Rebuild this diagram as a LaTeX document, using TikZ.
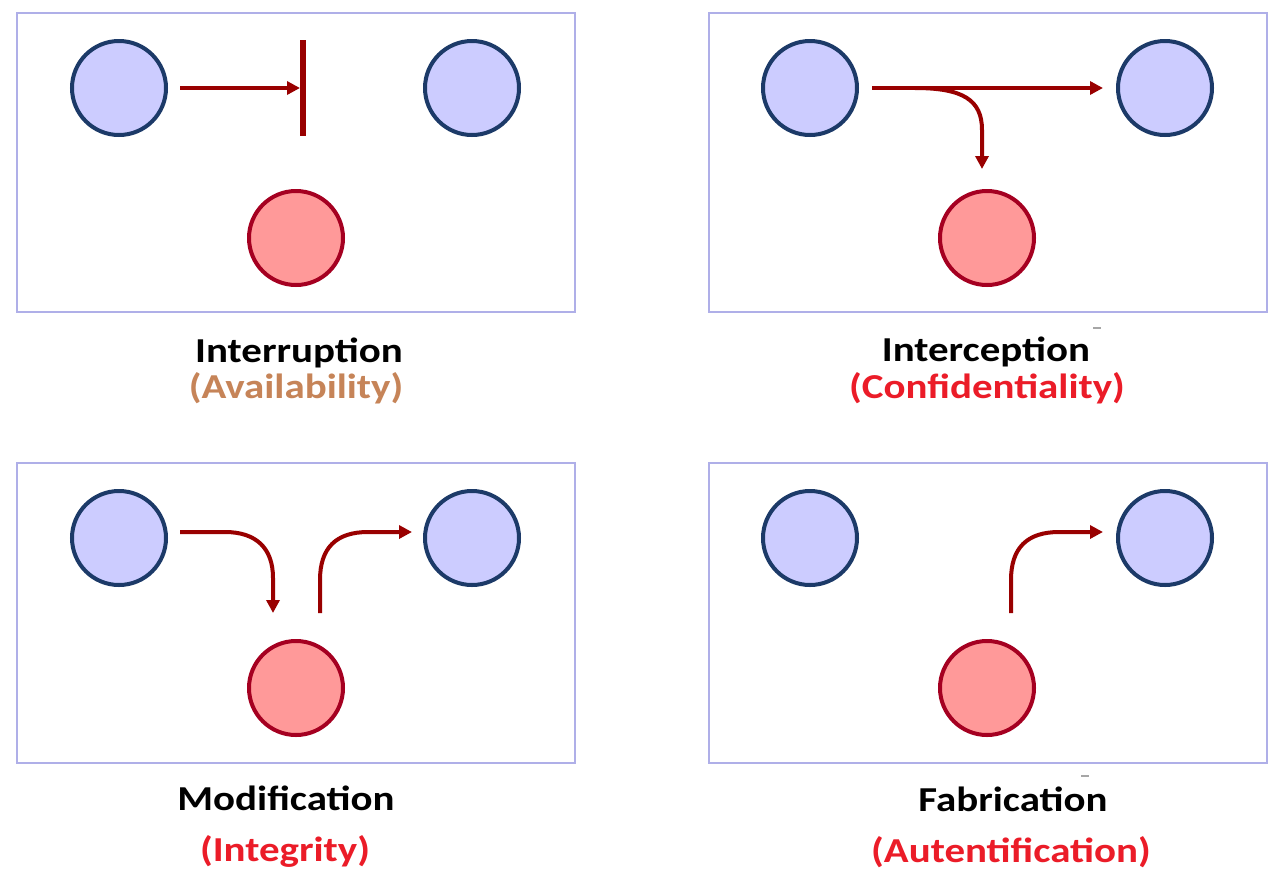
\documentclass[tikz,border=0pt]{standalone}
\usepackage{fontspec}
\setmainfont{Carlito}[FakeStretch=1.17]
\usetikzlibrary{arrows.meta}
\definecolor{boxc}{RGB}{175,175,232}
\definecolor{bluefill}{RGB}{204,204,255}
\definecolor{bluedraw}{RGB}{28,58,104}
\definecolor{redfill}{RGB}{255,153,153}
\definecolor{reddraw}{RGB}{165,0,33}
\definecolor{arrc}{RGB}{153,0,0}
\definecolor{availc}{RGB}{198,132,88}
\definecolor{redtxt}{RGB}{235,28,40}
\tikzset{
  frame/.style={draw=boxc, line width=2pt},
  party/.style={circle, draw=bluedraw, fill=bluefill, line width=4pt, minimum size=94pt, inner sep=0pt},
  attacker/.style={circle, draw=reddraw, fill=redfill, line width=4pt, minimum size=94pt, inner sep=0pt},
  flow/.style={draw=arrc, line width=4pt, -{Triangle[length=13pt,width=13pt]}},
  stopbar/.style={draw=arrc, line width=6pt},
  title/.style={anchor=base, font=\fontsize{35}{40}\selectfont\bfseries, text=black, inner sep=0pt},
  prop/.style={anchor=base, font=\fontsize{35}{40}\selectfont\bfseries, inner sep=0pt},
  tick/.style={draw=gray!70, line width=1.5pt}
}
\begin{document}
\begin{tikzpicture}[x=1pt,y=-1pt]
\useasboundingbox (0,0) rectangle (1288,887);
\fill[white] (0,0) rectangle (1288,887);
% frames
\draw[frame] (17,13) rectangle (575,312);
\draw[frame] (709,13) rectangle (1267,312);
\draw[frame] (17,463) rectangle (575,763);
\draw[frame] (709,463) rectangle (1267,763);

% ---------- panel 1: Interruption
\node[party] (s1) at (119,88) {};
\node[party] (r1) at (472,88) {};
\node[attacker] (m1) at (296,238) {};
\coordinate (s1o) at (180,88);
\coordinate (bar1t) at (303,40);
\coordinate (bar1b) at (303,136);
\coordinate (bar1m) at (300,88);
\draw[flow] (s1o) -- (bar1m);
\draw[stopbar] (bar1t) -- (bar1b);
\node[title] (t1) at (299,362) {Interruption};
\node[prop, text=availc] (p1) at (296,398) {(Availability)};

% ---------- panel 2: Interception
\node[party] (s2) at (810,88) {};
\node[party] (r2) at (1165,88) {};
\node[attacker] (m2) at (987,238) {};
\coordinate (s2o) at (872,88);
\coordinate (r2i) at (1103,88);
\coordinate (br2) at (915,88);
\coordinate (br2v) at (982,130);
\coordinate (m2i) at (982,169);
\draw[flow] (s2o) -- (r2i);
\draw[flow] (br2) .. controls (963,88) and (982,100) .. (br2v) -- (m2i);
\node[title] (t2) at (986,361) {Interception};
\node[prop, text=redtxt] (p2) at (987,398) {(Confidentiality)};
\draw[tick] (1093,328) -- (1101,328);

% ---------- panel 3: Modification
\node[party] (s3) at (119,538) {};
\node[party] (r3) at (472,538) {};
\node[attacker] (m3) at (296,688) {};
\coordinate (s3o) at (180,532);
\coordinate (s3h) at (225,532);
\coordinate (s3v) at (273,578);
\coordinate (m3i) at (273,613);
\draw[flow] (s3o) -- (s3h) .. controls (256,532) and (273,548) .. (s3v) -- (m3i);
\coordinate (m3o) at (320,613);
\coordinate (m3v) at (320,580);
\coordinate (m3h) at (368,532);
\coordinate (r3i) at (412,532);
\draw[flow] (m3o) -- (m3v) .. controls (320,548) and (336,532) .. (m3h) -- (r3i);
\node[title] (t3) at (286,810) {Modification};
\node[prop, text=redtxt] (p3) at (285,861) {(Integrity)};

% ---------- panel 4: Fabrication
\node[party] (s4) at (810,538) {};
\node[party] (r4) at (1165,538) {};
\node[attacker] (m4) at (987,688) {};
\coordinate (m4o) at (1011,613);
\coordinate (m4v) at (1011,580);
\coordinate (m4h) at (1059,532);
\coordinate (r4i) at (1103,532);
\draw[flow] (m4o) -- (m4v) .. controls (1011,548) and (1027,532) .. (m4h) -- (r4i);
\node[title] (t4) at (1013,811) {Fabrication};
\node[prop, text=redtxt] (p4) at (1011,862) {(Autentification)};
\draw[tick] (1081,776) -- (1089,776);
\end{tikzpicture}
\end{document}
